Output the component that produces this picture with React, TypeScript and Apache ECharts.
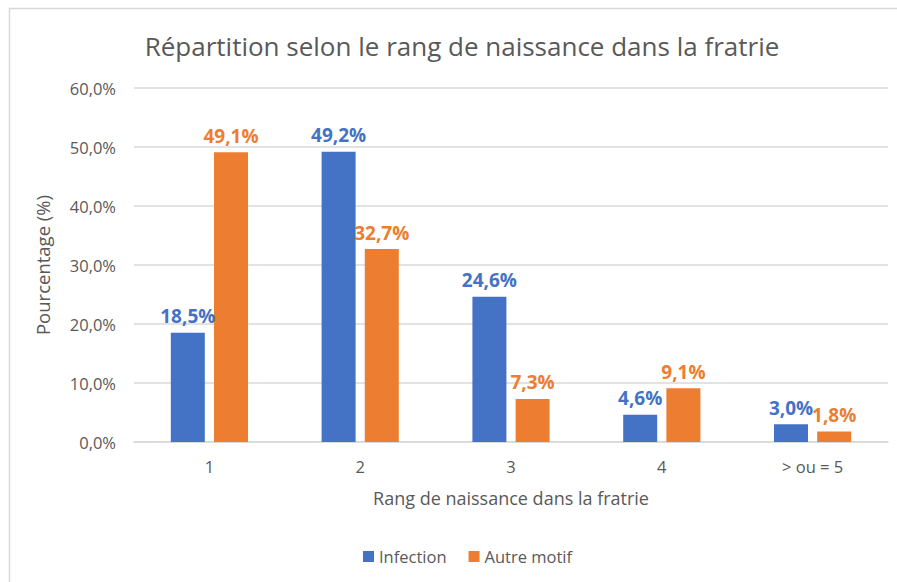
import React, { useEffect, useRef } from "react";
import * as echarts from "echarts";

const categories = ["1", "2", "3", "4", "> ou = 5"];
const infection = [18.5, 49.2, 24.6, 4.6, 3.0];
const autreMotif = [49.1, 32.7, 7.3, 9.1, 1.8];
const yTicks = [0, 10, 20, 30, 40, 50, 60];

const fmt = (v: number) => v.toFixed(1).replace(".", ",") + "%";
const FONT = "'Open Sans', 'Noto Sans', sans-serif";
const TXT = "#595959";

export default function App() {
  const ref = useRef<HTMLDivElement>(null);
  useEffect(() => {
    document.body.style.margin = "0";
    document.body.style.overflow = "hidden";
    const chart = echarts.init(ref.current!, null, { renderer: "svg" });
    chart.setOption({
      animation: false,
      textStyle: { fontFamily: FONT },
      title: {
        text: "Répartition selon le rang de naissance dans la fratrie",
        left: 457,
        textAlign: "center",
        top: 28,
        textStyle: { fontFamily: FONT, fontSize: 26, fontWeight: "normal", color: TXT },
      },
      graphic: [
        {
          type: "rect",
          shape: { x: 9.5, y: 8.5, width: 900, height: 600 },
          style: { fill: "none", stroke: "#d9d9d9", lineWidth: 1.5 },
          silent: true,
        },
      ],
      legend: {
        bottom: 12,
        left: 358,
        itemWidth: 11,
        itemHeight: 11,
        itemGap: 22,
        icon: "rect",
        textStyle: { fontFamily: FONT, fontSize: 16.5, color: TXT },
        data: ["Infection", "Autre motif"],
      },
      grid: { left: 134, right: 9, top: 88, bottom: 140 },
      xAxis: {
        type: "category",
        data: categories,
        name: "Rang de naissance dans la fratrie",
        nameLocation: "middle",
        nameGap: 47,
        nameTextStyle: { fontFamily: FONT, fontSize: 18, color: TXT },
        axisLine: { lineStyle: { color: "#d9d9d9", width: 1.5 } },
        axisTick: { show: false },
        axisLabel: { fontFamily: FONT, fontSize: 16.5, color: TXT, margin: 16 },
      },
      yAxis: {
        type: "value",
        min: 0,
        max: 60,
        interval: 10,
        name: "Pourcentage (%)",
        nameLocation: "middle",
        nameGap: 82,
        nameTextStyle: { fontFamily: FONT, fontSize: 18.5, color: TXT },
        axisLine: { show: false },
        axisTick: { show: false },
        splitLine: { lineStyle: { color: "#d9d9d9", width: 1.5 } },
        axisLabel: {
          fontFamily: FONT,
          fontSize: 16.5,
          color: TXT,
          margin: 18,
          formatter: (v: number) => (yTicks.includes(v) ? fmt(v) : ""),
        },
      },
      series: [
        {
          name: "Infection",
          type: "bar",
          data: infection,
          barWidth: 34,
          barGap: "27%",
          itemStyle: { color: "#4472C4" },
          label: {
            show: true,
            position: "top",
            distance: 7,
            formatter: (p: any) => fmt(p.value),
            fontFamily: FONT,
            fontSize: 19,
            fontWeight: "bold",
            color: "#4472C4",
          },
        },
        {
          name: "Autre motif",
          type: "bar",
          data: autreMotif,
          barWidth: 34,
          itemStyle: { color: "#ED7D31" },
          label: {
            show: true,
            position: "top",
            distance: 7,
            formatter: (p: any) => fmt(p.value),
            fontFamily: FONT,
            fontSize: 19,
            fontWeight: "bold",
            color: "#ED7D31",
          },
        },
      ],
    });
    return () => chart.dispose();
  }, []);
  return <div ref={ref} style={{ width: 897, height: 582 }} />;
}
